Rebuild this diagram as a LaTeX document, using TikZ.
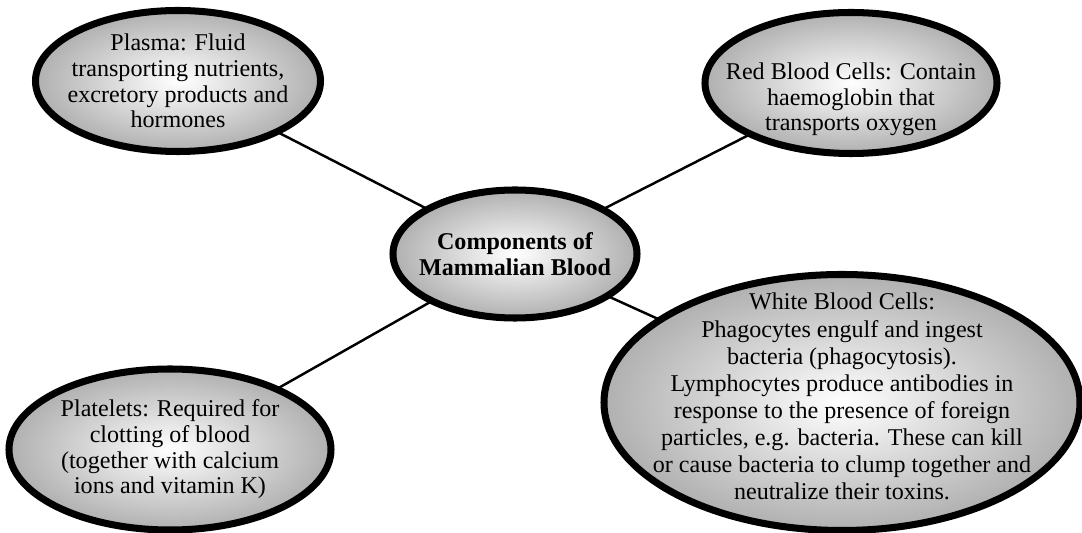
\documentclass[tikz,border=0pt]{standalone}
\usepackage{fontspec}
\setmainfont{Liberation Serif}
\usepackage{tikz}
\usetikzlibrary{shapes.geometric, backgrounds}

\begin{document}
\begin{tikzpicture}[
    blob/.style={ellipse, draw=black, line width=4pt, inner sep=0pt,
        shading=radial, inner color=white, outer color=black!31},
    blobtext/.style={align=center, inner sep=0pt, font=\fontsize{13.7}{14.6}\selectfont},
    link/.style={line width=1.4pt, black}
]
    \useasboundingbox (0,0) rectangle (21.64,-10.66);

    % the five ellipses
    \node[blob, minimum width=4.88cm, minimum height=2.56cm] (core) at (10.30,-5.08) {};
    \node[blob, minimum width=5.70cm, minimum height=2.82cm] (plasma) at (3.56,-1.62) {};
    \node[blob, minimum width=5.84cm, minimum height=2.82cm] (rbc) at (17.02,-1.66) {};
    \node[blob, minimum width=6.44cm, minimum height=3.22cm] (platelets) at (3.40,-8.99) {};
    \node[blob, minimum width=9.52cm, minimum height=5.12cm] (wbc) at (16.84,-8.05) {};

    % their texts
    \node[blobtext, font=\fontsize{13.7}{14.6}\selectfont\bfseries] at (core) {Components of\\Mammalian Blood};
    \node[blobtext] at (plasma) {Plasma: Fluid\\transporting nutrients,\\excretory products and\\hormones};
    \node[blobtext, yshift=-0.33cm] at (rbc) {Red Blood Cells: Contain\\haemoglobin that\\transports oxygen};
    \node[blobtext] at (platelets) {Platelets: Required for\\clotting of blood\\(together with calcium\\ions and vitamin K)};
    \node[blobtext, font=\fontsize{13.7}{15.4}\selectfont, yshift=0.12cm] at (wbc) {White Blood Cells:\\Phagocytes engulf and ingest\\bacteria (phagocytosis).\\Lymphocytes produce antibodies in\\response to the presence of foreign\\particles, e.g. bacteria. These can kill\\or cause bacteria to clump together and\\neutralize their toxins.};

    % spokes, kept behind the ellipses
    \begin{scope}[on background layer]
        \draw[link] (core.center) -- (plasma.center);
        \draw[link] (core.center) -- (rbc.center);
        \draw[link] (core.center) -- (platelets.center);
        \draw[link] (core.center) -- (wbc.center);
    \end{scope}
\end{tikzpicture}
\end{document}
